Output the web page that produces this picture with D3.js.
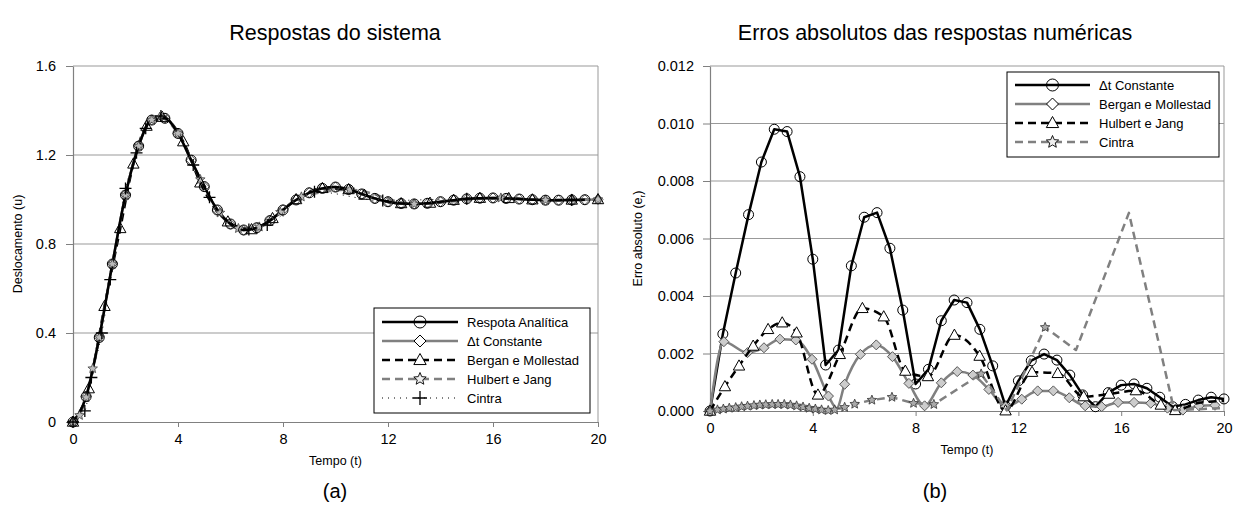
<!DOCTYPE html>
<html>
<head>
<meta charset="utf-8">
<script src="https://cdn.jsdelivr.net/npm/d3@7"></script>
<style>
  body { margin: 0; background: #fff; }
  svg text { font-family: Arial, "Liberation Sans", sans-serif; fill: #000; }
</style>
</head>
<body>
<svg id="chart" width="1233" height="513"></svg>
<script>
// ---- data: (a) system responses ----
const tGrid = [0,0.5,1,1.5,2,2.5,3,3.5,4,4.5,5,5.5,6,6.5,7,7.5,8,8.5,9,9.5,10,
               10.5,11,11.5,12,12.5,13,13.5,14,14.5,15,15.5,16,16.5,17,17.5,18,18.5,19,19.5,20];
const uAnalitica = [0,0.114,0.38,0.71,1.02,1.24,1.357,1.365,1.297,1.177,1.058,0.953,0.89,0.863,0.873,
                    0.905,0.953,0.998,1.03,1.05,1.056,1.045,1.025,1.005,0.99,0.982,0.98,0.983,0.99,
                    0.997,1.003,1.006,1.007,1.005,1.002,0.999,0.997,0.997,0.998,0.999];
const uDtConst = [0,0.115,0.382,0.712,1.022,1.242,1.358,1.366,1.297,1.176,1.057,0.952,0.889,0.862,0.873,
                  0.906,0.954,0.999,1.031,1.051,1.056,1.045,1.024,1.004,0.99,0.982,0.98,0.983,0.99,
                  0.997,1.003,1.006,1.007,1.005,1.002,0.999,0.997,0.997,0.998,0.999,1.0];
const tBergan = [0,0.6,1.2,1.8,2.3,2.8,3.4,4.2,4.85,5.9,6.8,7.6,8.5,9.5,10.5,11.1,12.5,13.6,14.5,15.5,16.6,17.5,19,20];
const uBergan = [0,0.15,0.52,0.87,1.16,1.33,1.37,1.26,1.075,0.9,0.865,0.915,1.0,1.05,1.045,1.02,0.982,0.984,
                 0.997,1.006,1.005,0.999,0.998,1.0];
const tHulbert = [0,0.25,0.5,0.75,1,1.5,2,2.5,3,3.3,4,4.85,5.6,6.3,7.1,7.9,8.7,10.55,13,16.3,18,20];
const uHulbert = [0,0.03,0.11,0.24,0.38,0.71,1.02,1.24,1.357,1.37,1.297,1.09,0.94,0.87,0.877,0.943,1.012,
                  1.044,0.98,1.007,0.997,1.0];
const tCintra = [0,0.45,0.7,1.1,1.42,2,2.42,2.77,3.35,4.58,5.2,6.7,7.4,9.2,11.8,15,19];
const uCintra = [0,0.05,0.2,0.4,0.64,1.05,1.21,1.32,1.375,1.155,1.01,0.865,0.885,1.035,0.995,1.003,0.998];

// ---- data: (b) absolute errors ----
const eDtConst = [0,0.00268,0.0048,0.00683,0.00866,0.0098,0.00972,0.00815,0.00528,0.0016,0.00212,0.00505,
                  0.00674,0.0069,0.00566,0.00351,0.00094,0.00145,0.00314,0.00386,0.00377,0.00284,0.00157,
                  0.00017,0.00105,0.00175,0.00198,0.00177,0.00125,0.00056,0.00015,0.00064,0.0009,0.00094,
                  0.00079,0.00048,0.00015,0.00023,0.00038,0.00048,0.00042];
const tBerganE = [0,0.54,1.46,2.1,2.72,3.34,3.97,4.61,4.93,5.24,5.85,6.47,7.1,7.74,8.35,9.0,9.62,10.23,10.85,
                  11.5,12.13,12.75,13.36,13.98,14.6,15.24,15.88,16.5,17.15,17.8,18.4,19.03,19.65];
const eBerganE = [0,0.00241,0.00203,0.0022,0.0025,0.00247,0.0018,0.00052,0.0001,0.00093,0.00197,0.0023,0.00189,
                  0.00096,0.00018,0.00098,0.00137,0.00125,0.00075,0.00015,0.00041,0.0007,0.0007,0.00046,
                  0.00018,0.00015,0.0003,0.0003,0.00027,0.0001,0.00003,0.00018,0.0002];
const bareBerganE = [4.93];
const tHulbertE = [0,0.58,1.13,1.68,2.26,2.81,3.37,4.2,5.05,5.93,6.76,7.6,8.48,9.51,10.49,11.5,12.53,13.53,
                   14.54,15.53,16.57,17.54,18.1,19,20];
const eHulbertE = [0,0.00085,0.00157,0.00226,0.00284,0.00307,0.00272,0.00056,0.00197,0.00357,0.00328,0.00139,
                   0.0012,0.00264,0.00191,0.00001,0.00135,0.00131,0.0005,0.00059,0.00071,0.00021,0.00002,
                   0.00028,0.00035];
const bareHulbertE = [19, 20];
const tCintraE = [0,0.29,0.52,0.75,1,1.23,1.46,1.71,1.94,2.17,2.42,2.65,2.89,3.13,3.37,3.62,3.86,4.1,4.34,4.6,
                  4.85,5.24,5.63,6.3,7.08,7.92,8.71,10.55,11.55,13.04,14.24,16.3,18.06,20];
const eCintraE = [0,0.00004,0.00007,0.0001,0.00012,0.00015,0.00017,0.00019,0.00021,0.00022,0.00023,0.00023,
                  0.00023,0.00021,0.00018,0.00014,0.0001,0.00007,0.00004,0.00002,0.00004,0.00013,0.00024,
                  0.00038,0.00048,0.00027,0.00023,0.00129,0.00002,0.00291,0.00212,0.00689,0.00003,0.0001];
const bareCintraE = [11.55, 14.24, 16.3, 18.06, 20];

const xTicks = [0, 4, 8, 12, 16, 20];
const yTicksA = [0, 0.4, 0.8, 1.2, 1.6];
const yTicksB = [0, 0.002, 0.004, 0.006, 0.008, 0.01, 0.012];

// ---- styles ----
const GRAY = "#808080";
const ST = {
  solidK:  { stroke: "#000", w: 2.5, dash: null },
  solidG:  { stroke: GRAY,   w: 2.5, dash: null },
  dashK:   { stroke: "#000", w: 2.5, dash: "8,5" },
  dashG:   { stroke: GRAY,   w: 2.5, dash: "8,5" },
  dotK:    { stroke: "#000", w: 1,   dash: "1,5" },
};

const svg = d3.select("#chart");

// ---- marker paths ----
function markerPath(type, s) {
  if (type === "diamond") return `M0,${-s}L${s},0L0,${s}L${-s},0Z`;
  if (type === "triangle") return `M0,${-s}L${s * 0.95},${s * 0.7}L${-s * 0.95},${s * 0.7}Z`;
  if (type === "plus") return `M${-s},0H${s}M0,${-s}V${s}`;
  if (type === "star") {
    let p = "";
    for (let k = 0; k < 10; k++) {
      const r = k % 2 === 0 ? s : s * 0.45;
      const a = -Math.PI / 2 + k * Math.PI / 5;
      p += (k === 0 ? "M" : "L") + (r * Math.cos(a)).toFixed(2) + "," + (r * Math.sin(a)).toFixed(2);
    }
    return p + "Z";
  }
  return d3.symbol(d3.symbolCircle, Math.PI * s * s)();
}

function drawMarker(g, type, cx, cy, m) {
  if (type === "circle") {
    g.append("circle").attr("cx", cx).attr("cy", cy).attr("r", m.size)
      .attr("fill", m.fill).attr("stroke", m.stroke).attr("stroke-width", m.sw);
  } else {
    g.append("path").attr("d", markerPath(type, m.size))
      .attr("transform", `translate(${cx},${cy})`)
      .attr("fill", m.fill).attr("stroke", m.stroke).attr("stroke-width", m.sw);
  }
}

// ---- panel ----
function panel(o) {
  const x = d3.scaleLinear().domain([0, 20]).range([o.x0, o.x1]);
  const y = d3.scaleLinear().domain(o.yDomain).range([o.y0, o.y1]);
  const g = svg.append("g");

  // gridlines + right border
  g.selectAll("line.grid").data(o.yTicks.filter((d) => d > 0)).join("line")
    .attr("x1", o.x0).attr("x2", o.x1).attr("y1", (d) => y(d)).attr("y2", (d) => y(d))
    .attr("stroke", "#999").attr("stroke-width", 1);
  g.append("line").attr("x1", o.x1).attr("x2", o.x1).attr("y1", o.y1).attr("y2", o.y0)
    .attr("stroke", "#999");

  const ax = g.append("g").attr("transform", `translate(0,${o.y0})`)
    .call(d3.axisBottom(x).tickValues(xTicks).tickSize(5).tickSizeOuter(0).tickPadding(7)
      .tickFormat(d3.format("d")));
  const ay = g.append("g").attr("transform", `translate(${o.x0},0)`)
    .call(d3.axisLeft(y).tickValues(o.yTicks).tickSize(7).tickSizeOuter(0).tickPadding(o.yPad)
      .tickFormat(o.yFmt));
  [ax, ay].forEach((a) => {
    a.select(".domain").attr("stroke", GRAY).attr("stroke-width", 1.2);
    a.selectAll(".tick line").attr("stroke", GRAY);
    a.selectAll(".tick text").attr("font-size", 14.5).attr("fill", "#000");
  });

  // titles
  const cx = (o.x0 + o.x1) / 2;
  svg.append("text").attr("x", o.titleX).attr("y", 40).attr("text-anchor", "middle")
    .attr("font-size", 21.5).text(o.title);
  svg.append("text").attr("x", cx).attr("y", o.y0 + 43).attr("text-anchor", "middle")
    .attr("font-size", 12.5).text("Tempo (t)");
  svg.append("text").attr("x", o.titleX).attr("y", 498).attr("text-anchor", "middle")
    .attr("font-size", 20).text(o.tag);
  const yl = svg.append("text")
    .attr("transform", `translate(${o.yLabelX},${(o.y0 + o.y1) / 2}) rotate(-90)`)
    .attr("text-anchor", "middle").attr("font-size", 12.5);
  o.yLabel(yl);

  return { g, x, y };
}

function series(p, t, v, st, curve, marker, m, bare) {
  const line = d3.line().x((d) => p.x(d[0])).y((d) => p.y(d[1])).curve(curve);
  const pts = t.map((tt, k) => [tt, v[k]]);
  p.g.append("path").attr("d", line(pts)).attr("fill", "none")
    .attr("stroke", st.stroke).attr("stroke-width", st.w)
    .attr("stroke-dasharray", st.dash).attr("stroke-linejoin", "round");
  return () => {
    const mg = p.g.append("g");
    pts.filter((d) => !(bare || []).includes(d[0]))
      .forEach((d) => drawMarker(mg, marker, p.x(d[0]), p.y(d[1]), m));
  };
}

function legend(box, items) {
  const g = svg.append("g");
  g.append("rect").attr("x", box.x).attr("y", box.y).attr("width", box.w).attr("height", box.h)
    .attr("fill", "#fff").attr("stroke", "#000").attr("stroke-width", 1);
  items.forEach((it, k) => {
    const yy = box.rowY + k * box.dy;
    g.append("line").attr("x1", box.lx0).attr("x2", box.lx1).attr("y1", yy).attr("y2", yy)
      .attr("stroke", it.st.stroke).attr("stroke-width", it.st.w).attr("stroke-dasharray", it.st.dash);
    drawMarker(g, it.marker, (box.lx0 + box.lx1) / 2, yy, it.m);
    g.append("text").attr("x", box.tx).attr("y", yy + 4.5).attr("font-size", 13).text(it.label);
  });
}

// ---- (a) ----
const pA = panel({
  x0: 73, x1: 598, y0: 422, y1: 66, yDomain: [0, 1.6], yTicks: yTicksA, yPad: 10,
  yFmt: (d) => (d === 0 ? "0" : d3.format(".1f")(d)),
  title: "Respostas do sistema", titleX: 335, tag: "(a)", yLabelX: 22,
  yLabel: (t) => t.text("Deslocamento (u)"),
});
const mCircle = { size: 5, fill: "none", stroke: "#000", sw: 1 };
const mDiamondA = { size: 5, fill: "none", stroke: "#555", sw: 1 };
const mTri = { size: 6, fill: "none", stroke: "#000", sw: 1 };
const mStarA = { size: 5, fill: "#bbb", stroke: "#444", sw: 0.8 };
const mPlus = { size: 6, fill: "none", stroke: "#000", sw: 1.3 };

const aMk = [
  series(pA, tCintra, uCintra, ST.dotK, d3.curveMonotoneX, "plus", mPlus),
  series(pA, tHulbert, uHulbert, ST.dashG, d3.curveMonotoneX, "star", mStarA),
  series(pA, tBergan, uBergan, ST.dashK, d3.curveMonotoneX, "triangle", mTri),
  series(pA, tGrid, uDtConst, ST.solidG, d3.curveMonotoneX, "diamond", mDiamondA),
  series(pA, tGrid.slice(0, uAnalitica.length), uAnalitica, ST.solidK, d3.curveMonotoneX, "circle", mCircle),
];
[aMk[3], aMk[1], aMk[2], aMk[4], aMk[0]].forEach((f) => f());

legend({ x: 374, y: 308, w: 216, h: 105, rowY: 322, dy: 19, lx0: 382, lx1: 458, tx: 467 }, [
  { label: "Respota Analítica", st: ST.solidK, marker: "circle", m: { size: 6, fill: "none", stroke: "#000", sw: 1 } },
  { label: "Δt Constante", st: ST.solidG, marker: "diamond", m: { size: 6, fill: "#fff", stroke: "#000", sw: 1 } },
  { label: "Bergan e Mollestad", st: ST.dashK, marker: "triangle", m: { size: 6.5, fill: "#fff", stroke: "#000", sw: 1 } },
  { label: "Hulbert e Jang", st: ST.dashG, marker: "star", m: { size: 6.5, fill: "#eee", stroke: "#000", sw: 0.9 } },
  { label: "Cintra", st: ST.dotK, marker: "plus", m: { size: 7, fill: "none", stroke: "#000", sw: 1.3 } },
]);

// ---- (b) ----
const pB = panel({
  x0: 710, x1: 1224, y0: 411, y1: 66, yDomain: [0, 0.012], yTicks: yTicksB, yPad: 9,
  yFmt: d3.format(".3f"),
  title: "Erros absolutos das respostas numéricas", titleX: 935, tag: "(b)", yLabelX: 642,
  yLabel: (t) => {
    t.append("tspan").text("Erro absoluto (e");
    t.append("tspan").attr("font-size", 8).attr("dy", 3).text("r");
    t.append("tspan").attr("dy", -3).text(")");
  },
});
const mDiamondB = { size: 5, fill: "#ccc", stroke: "#555", sw: 1 };
const mStarB = { size: 5, fill: "#aaa", stroke: "#333", sw: 0.8 };
const mTriB = { size: 6, fill: "#fff", stroke: "#000", sw: 1 };

series(pB, tGrid, eDtConst, ST.solidK, d3.curveLinear, "circle", mCircle)();
series(pB, tBerganE, eBerganE, ST.solidG, d3.curveMonotoneX, "diamond", mDiamondB, bareBerganE)();
series(pB, tHulbertE, eHulbertE, ST.dashK, d3.curveMonotoneX, "triangle", mTriB, bareHulbertE)();
series(pB, tCintraE, eCintraE, ST.dashG, d3.curveLinear, "star", mStarB, bareCintraE)();

legend({ x: 1007, y: 72, w: 212, h: 85, rowY: 85, dy: 19, lx0: 1015, lx1: 1090, tx: 1099 }, [
  { label: "Δt Constante", st: ST.solidK, marker: "circle", m: { size: 6, fill: "none", stroke: "#000", sw: 1 } },
  { label: "Bergan e Mollestad", st: ST.solidG, marker: "diamond", m: { size: 6, fill: "#fff", stroke: "#000", sw: 1 } },
  { label: "Hulbert e Jang", st: ST.dashK, marker: "triangle", m: { size: 6.5, fill: "#fff", stroke: "#000", sw: 1 } },
  { label: "Cintra", st: ST.dashG, marker: "star", m: { size: 6.5, fill: "#eee", stroke: "#000", sw: 0.9 } },
]);
</script>
</body>
</html>
